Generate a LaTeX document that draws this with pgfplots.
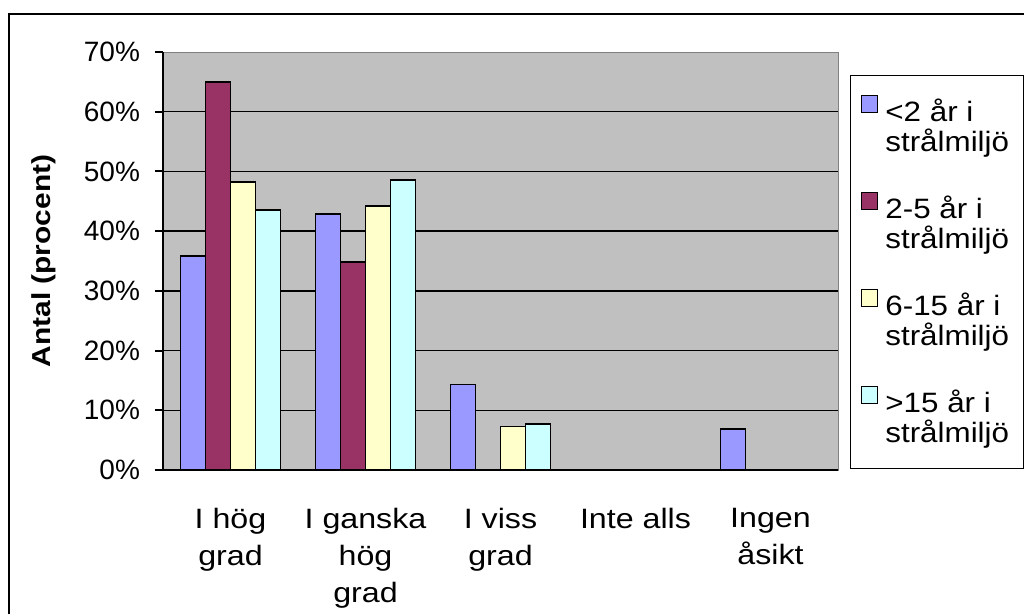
\documentclass[border=0pt]{standalone}
\usepackage{fontspec}
\setmainfont{Liberation Sans}
\newfontfamily\lab{Liberation Sans}[FakeStretch=1.15]
\newfontfamily\leg{Liberation Sans}[FakeStretch=1.12]
\usepackage{pgfplots}
\pgfplotsset{compat=1.18}
\definecolor{cblue}{HTML}{9999FF}
\definecolor{cmaroon}{HTML}{993366}
\definecolor{cyellow}{HTML}{FFFFCC}
\definecolor{ccyan}{HTML}{CCFFFF}
\definecolor{plotbg}{HTML}{C0C0C0}
\begin{document}
\begin{tikzpicture}
\useasboundingbox (0,0) rectangle (512pt,307pt);
\draw[line width=1pt] (4.5pt,0pt) -- (4.5pt,300pt) -- (512pt,300pt);
\begin{axis}[
  at={(81.5pt,72pt)}, anchor=south west,
  scale only axis, width=337.5pt, height=209pt,
  xmin=-0.5, xmax=4.5, ymin=0, ymax=70,
  ybar=0pt, bar width=12.5pt,
  axis background/.style={fill=plotbg, draw=gray},
  axis x line*=bottom, axis y line*=left,
  axis line style={line width=1pt, -},
  every tick/.style={black, line width=1pt},
  tick align=outside,
  ytick={0,10,...,70},
  yticklabel={\pgfmathprintnumber{\tick}\%},
  /pgf/number format/assume math mode=true,
  major tick length=4pt,
  yticklabel style={font=\fontsize{14}{16}\selectfont, xshift=-4pt},
  xtick={0,1,2,3,4},
  xticklabels={{I hög\\grad},{I ganska\\hög\\grad},{I viss\\grad},{Inte alls},{Ingen\\åsikt}},
  x tick style={draw=none},
  xticklabel style={font=\lab\fontsize{14}{18.5}\selectfont, align=center, anchor=north, yshift=-11.5pt},
  extra x ticks={-0.5,0.5,1.5,2.5,3.5,4.5},
  extra x tick labels={},
  extra x tick style={major tick length=5pt, tick style={draw=black, line width=1pt}},
  extra y ticks={10,20,30,40,50,60},
  extra y tick labels={},
  extra y tick style={grid=major, major grid style={black, line width=0.75pt}, major tick length=0pt},
  ylabel={\bfseries Antal (procent)},
  every axis y label/.style={at={(axis description cs:-0.176,0.5)}, rotate=90, anchor=center, font=\lab\fontsize{13}{16}\selectfont},
  every axis plot/.append style={draw=black, line width=0.75pt},
  legend style={at={(1.018,0.945)}, anchor=north west, draw=black, line width=0.5pt, fill=white,
    font=\leg\fontsize{14}{15}\selectfont, cells={anchor=west, align=left},
    inner xsep=5pt, inner ysep=9.5pt, row sep=16.5pt},
  legend image code/.code={\path[draw=none, fill=none] (0pt,-16pt) rectangle (10pt,16pt);
    \draw[#1, line width=0.75pt] (0pt,7pt) rectangle (8pt,15.5pt);},
]
\addplot[fill=cblue] coordinates {(0,35.8) (1,42.9) (2,14.3) (4,6.9)};
\addplot[fill=cmaroon] coordinates {(0,65.0) (1,34.8)};
\addplot[fill=cyellow] coordinates {(0,48.2) (1,44.2) (2,7.3)};
\addplot[fill=ccyan] coordinates {(0,43.5) (1,48.6) (2,7.7)};
\legend{{<2 år i\\strålmiljö},{2-5 år i\\strålmiljö},{6-15 år i\\strålmiljö},{>15 år i\\strålmiljö}}
\end{axis}
\end{tikzpicture}
\end{document}
